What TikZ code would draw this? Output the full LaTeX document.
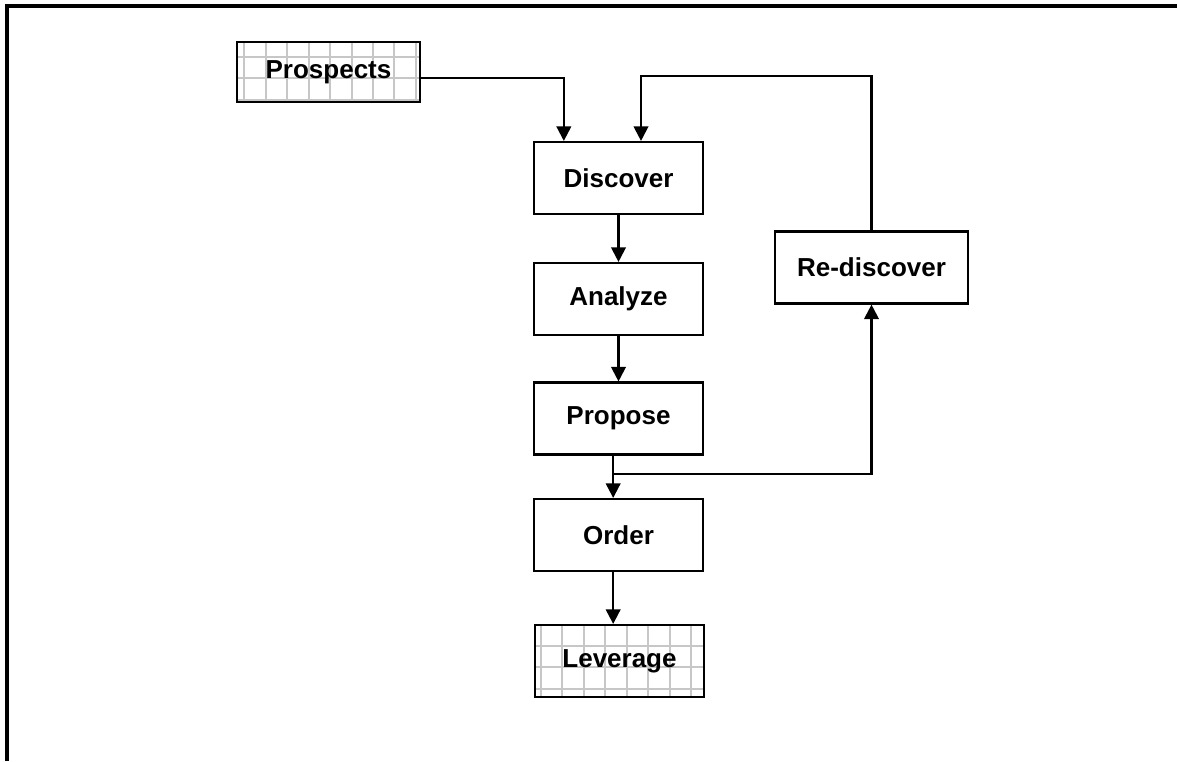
\documentclass[tikz,border=0pt]{standalone}
\usepackage{fontspec}
\setmainfont{Liberation Sans}
\usetikzlibrary{arrows.meta}
\begin{document}
\begin{tikzpicture}[x=0.75pt, y=-0.75pt, >={Triangle[width=11pt,length=11pt]},
  stepbox/.style={draw, line width=1.6pt, minimum width=126.75pt, minimum height=54pt,
    inner sep=0pt, font=\fontsize{19.5}{23}\selectfont\bfseries},
  gridbox/.style={stepbox, path picture={
    \draw[black!22, line width=1.5pt, step=16.1pt]
      ([shift={(-1pt,-1pt)}]path picture bounding box.south west) grid
      (path picture bounding box.north east);}},
  flow/.style={line width=1.6pt, ->}]
\useasboundingbox (0,0) rectangle (1177,761);
% frame
\draw[line width=3pt] (7,761) -- (7,6) -- (1177,6);
% boxes
\node[gridbox, minimum width=137.25pt, minimum height=45pt] (prospects) at (328.5,72) {Prospects};
\node[stepbox] (discover) at (618.5,178) {Discover};
\node[stepbox] (analyze) at (618.5,299) {Analyze};
\node[stepbox] (propose) at (618.5,418.5) {Propose};
\node[stepbox] (order) at (618.5,535) {Order};
\node[gridbox] (leverage) at (619.5,661) {Leverage};
\node[stepbox, minimum width=144.75pt] (redisc) at (871.5,267.5) {Re-discover};
% connectors
\coordinate (looptop) at (641,76);
\draw[flow] ([yshift=-4.5pt]prospects.east) -| ([xshift=-41pt]discover.north);
\draw[flow] (redisc.north) |- (looptop) -- (looptop |- discover.north);
\draw[flow] (discover) -- (analyze);
\draw[flow] (analyze) -- (propose);
\draw[flow] ([xshift=-4pt]propose.south) -- ([xshift=-4pt]order.north);
\draw[flow] ([shift={(-4pt,-13.5pt)}]propose.south) -| (redisc.south);
\draw[flow] ([xshift=-4pt]order.south) -- ([xshift=-4pt]order.south |- leverage.north);
\end{tikzpicture}
\end{document}
